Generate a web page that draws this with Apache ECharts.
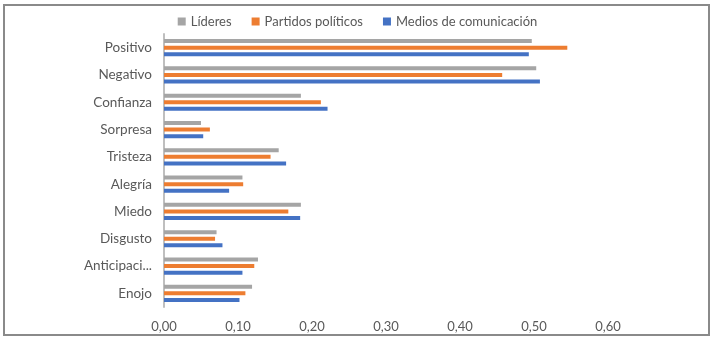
<!DOCTYPE html>
<html>
<head>
<meta charset="utf-8">
<script src="https://cdn.jsdelivr.net/npm/echarts@6/dist/echarts.min.js"></script>
<style>
  html, body { margin: 0; padding: 0; background: #fff; }
  #chart { width: 715px; height: 344px; }
</style>
</head>
<body>
<div id="chart"></div>
<script>
// Emotion categories, top to bottom
const categories = ['Positivo', 'Negativo', 'Confianza', 'Sorpresa', 'Tristeza', 'Alegría', 'Miedo', 'Disgusto', 'Anticipación', 'Enojo'];

// Average share per category for each group
const lideres  = [0.497, 0.503, 0.185, 0.050, 0.155, 0.106, 0.185, 0.071, 0.127, 0.119];
const partidos = [0.545, 0.457, 0.212, 0.062, 0.144, 0.107, 0.168, 0.069, 0.122, 0.110];
const medios   = [0.493, 0.508, 0.221, 0.053, 0.165, 0.088, 0.184, 0.079, 0.106, 0.102];

const seriesNames = ['Líderes', 'Partidos políticos', 'Medios de comunicación'];
const xTicks = [0, 0.1, 0.2, 0.3, 0.4, 0.5, 0.6];

const font = 'Lato, "Open Sans", sans-serif';
const textColor = '#595959';

const chart = echarts.init(document.getElementById('chart'), null, { renderer: 'canvas' });

function bar(name, data, color) {
  return {
    name, type: 'bar', data,
    barWidth: 4, barGap: '65%',
    itemStyle: { color },
    emphasis: { disabled: true }
  };
}

chart.setOption({
  animation: false,
  backgroundColor: '#fff',
  graphic: [{
    type: 'rect',
    shape: { x: 4, y: 5, width: 705, height: 330 },
    style: { fill: 'none', stroke: '#8a8a8a', lineWidth: 2 },
    silent: true
  }],
  legend: {
    top: 10, left: 'center',
    itemWidth: 8, itemHeight: 8, itemGap: 20,
    icon: 'rect',
    textStyle: { fontFamily: font, fontSize: 13, color: textColor },
    data: seriesNames
  },
  grid: { left: 164, right: 107, top: 34, bottom: 37, containLabel: false },
  xAxis: {
    type: 'value', min: 0, max: 0.6, interval: 0.1,
    axisLine: { show: false }, axisTick: { show: false },
    splitLine: { show: false },
    axisLabel: {
      margin: 13, fontFamily: font, fontSize: 13, color: textColor,
      formatter: v => {
        const t = xTicks.find(x => Math.abs(x - v) < 1e-9);
        return (t === undefined ? v : t).toFixed(2).replace('.', ',');
      }
    }
  },
  yAxis: {
    type: 'category', data: categories, inverse: true,
    axisLine: { show: true, lineStyle: { color: '#bfbfbf', width: 2 } },
    axisTick: { show: false },
    axisLabel: {
      margin: 12, fontFamily: font, fontSize: 13.5, color: textColor,
      formatter: v => v.length > 10 ? v.slice(0, 10) + '...' : v
    }
  },
  series: [
    bar(seriesNames[0], lideres, '#A5A5A5'),
    bar(seriesNames[1], partidos, '#ED7D31'),
    bar(seriesNames[2], medios, '#4472C4')
  ]
});
</script>
</body>
</html>
